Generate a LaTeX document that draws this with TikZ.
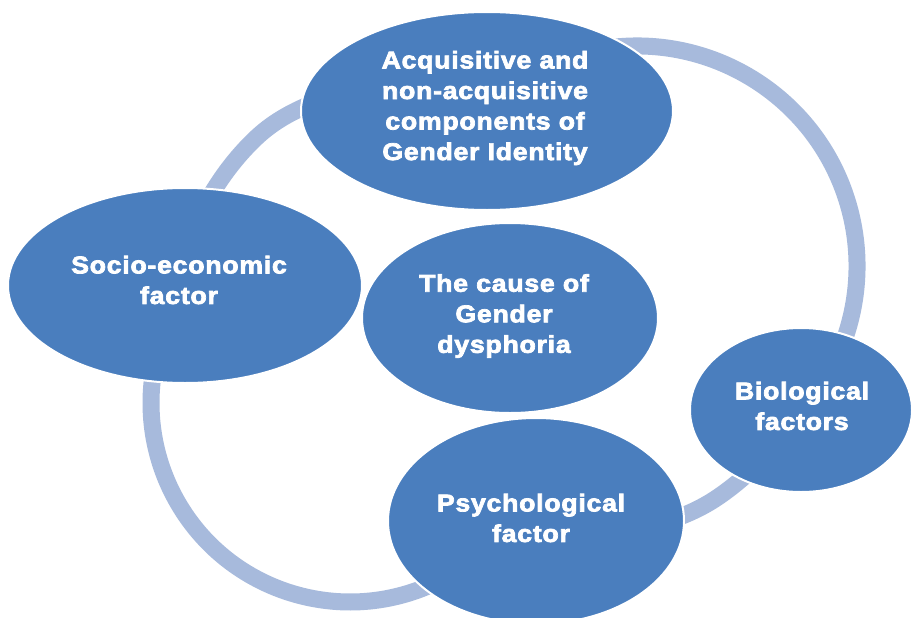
\documentclass[tikz,border=0pt]{standalone}
\usepackage{fontspec}
\usetikzlibrary{shapes.geometric}
\newfontfamily\blobfont{Liberation Sans Bold}[LetterSpace=3,FakeStretch=1.1,FakeBold=3]
\definecolor{blobblue}{RGB}{74,126,190}
\definecolor{ringblue}{RGB}{167,186,220}

\tikzset{every picture/.style={line width=0.75pt}}
\tikzset{
  blob/.style={ellipse, fill=blobblue, draw=white, line width=1.5pt, inner sep=0pt},
  lbl/.style={text=white, align=center, inner sep=0pt, font=\blobfont\fontsize{18.2}{22.9}\selectfont},
  ringband/.style={draw=ringblue, line width=12.75pt}
}

\begin{document}
\begin{tikzpicture}[x=0.75pt,y=0.75pt,yscale=-1,xscale=1]
\clip (0,0) rectangle (913,617);
\fill[white] (0,0) rectangle (913,617);

%Ring behind the ellipses
\draw [ringband] (580.1,53.5) arc [start angle=-105, end angle=20, radius=220]
  .. controls (823,397.6) and (763,469) .. (712,501)
  .. controls (635.6,548.5) and (527.4,530.3) .. (449.5,575.3)
  arc [start angle=60, end angle=190, radius=199]
  .. controls (167.9,289.6) and (191.3,198.5) .. (257,137)
  .. controls (330,68.7) and (483.5,79.4) .. cycle;

%Ellipses
\draw (487,111) node [blob, minimum width=279pt, minimum height=148.5pt] (acq) {};
\draw (185,285.5) node [blob, minimum width=265.5pt, minimum height=146.25pt] (socio) {};
\draw (510,318) node [blob, minimum width=222pt, minimum height=142.5pt] (cause) {};
\draw (801,410) node [blob, minimum width=166.5pt, minimum height=123pt] (bio) {};
\draw (536,521) node [blob, minimum width=222pt, minimum height=154.5pt] (psych) {};

% Text Node
\draw (485,108) node [lbl] (acqText) {Acquisitive and\\non-acquisitive\\components of\\Gender Identity};
% Text Node
\draw (179,280) node [lbl] (socioText) {Socio-economic\\factor};
% Text Node
\draw (504,316) node [lbl] (causeText) {The cause of\\Gender\\dysphoria};
% Text Node
\draw (802,406) node [lbl] (bioText) {Biological\\factors};
% Text Node
\draw (531,518) node [lbl] (psychText) {Psychological\\factor};

\end{tikzpicture}
\end{document}
